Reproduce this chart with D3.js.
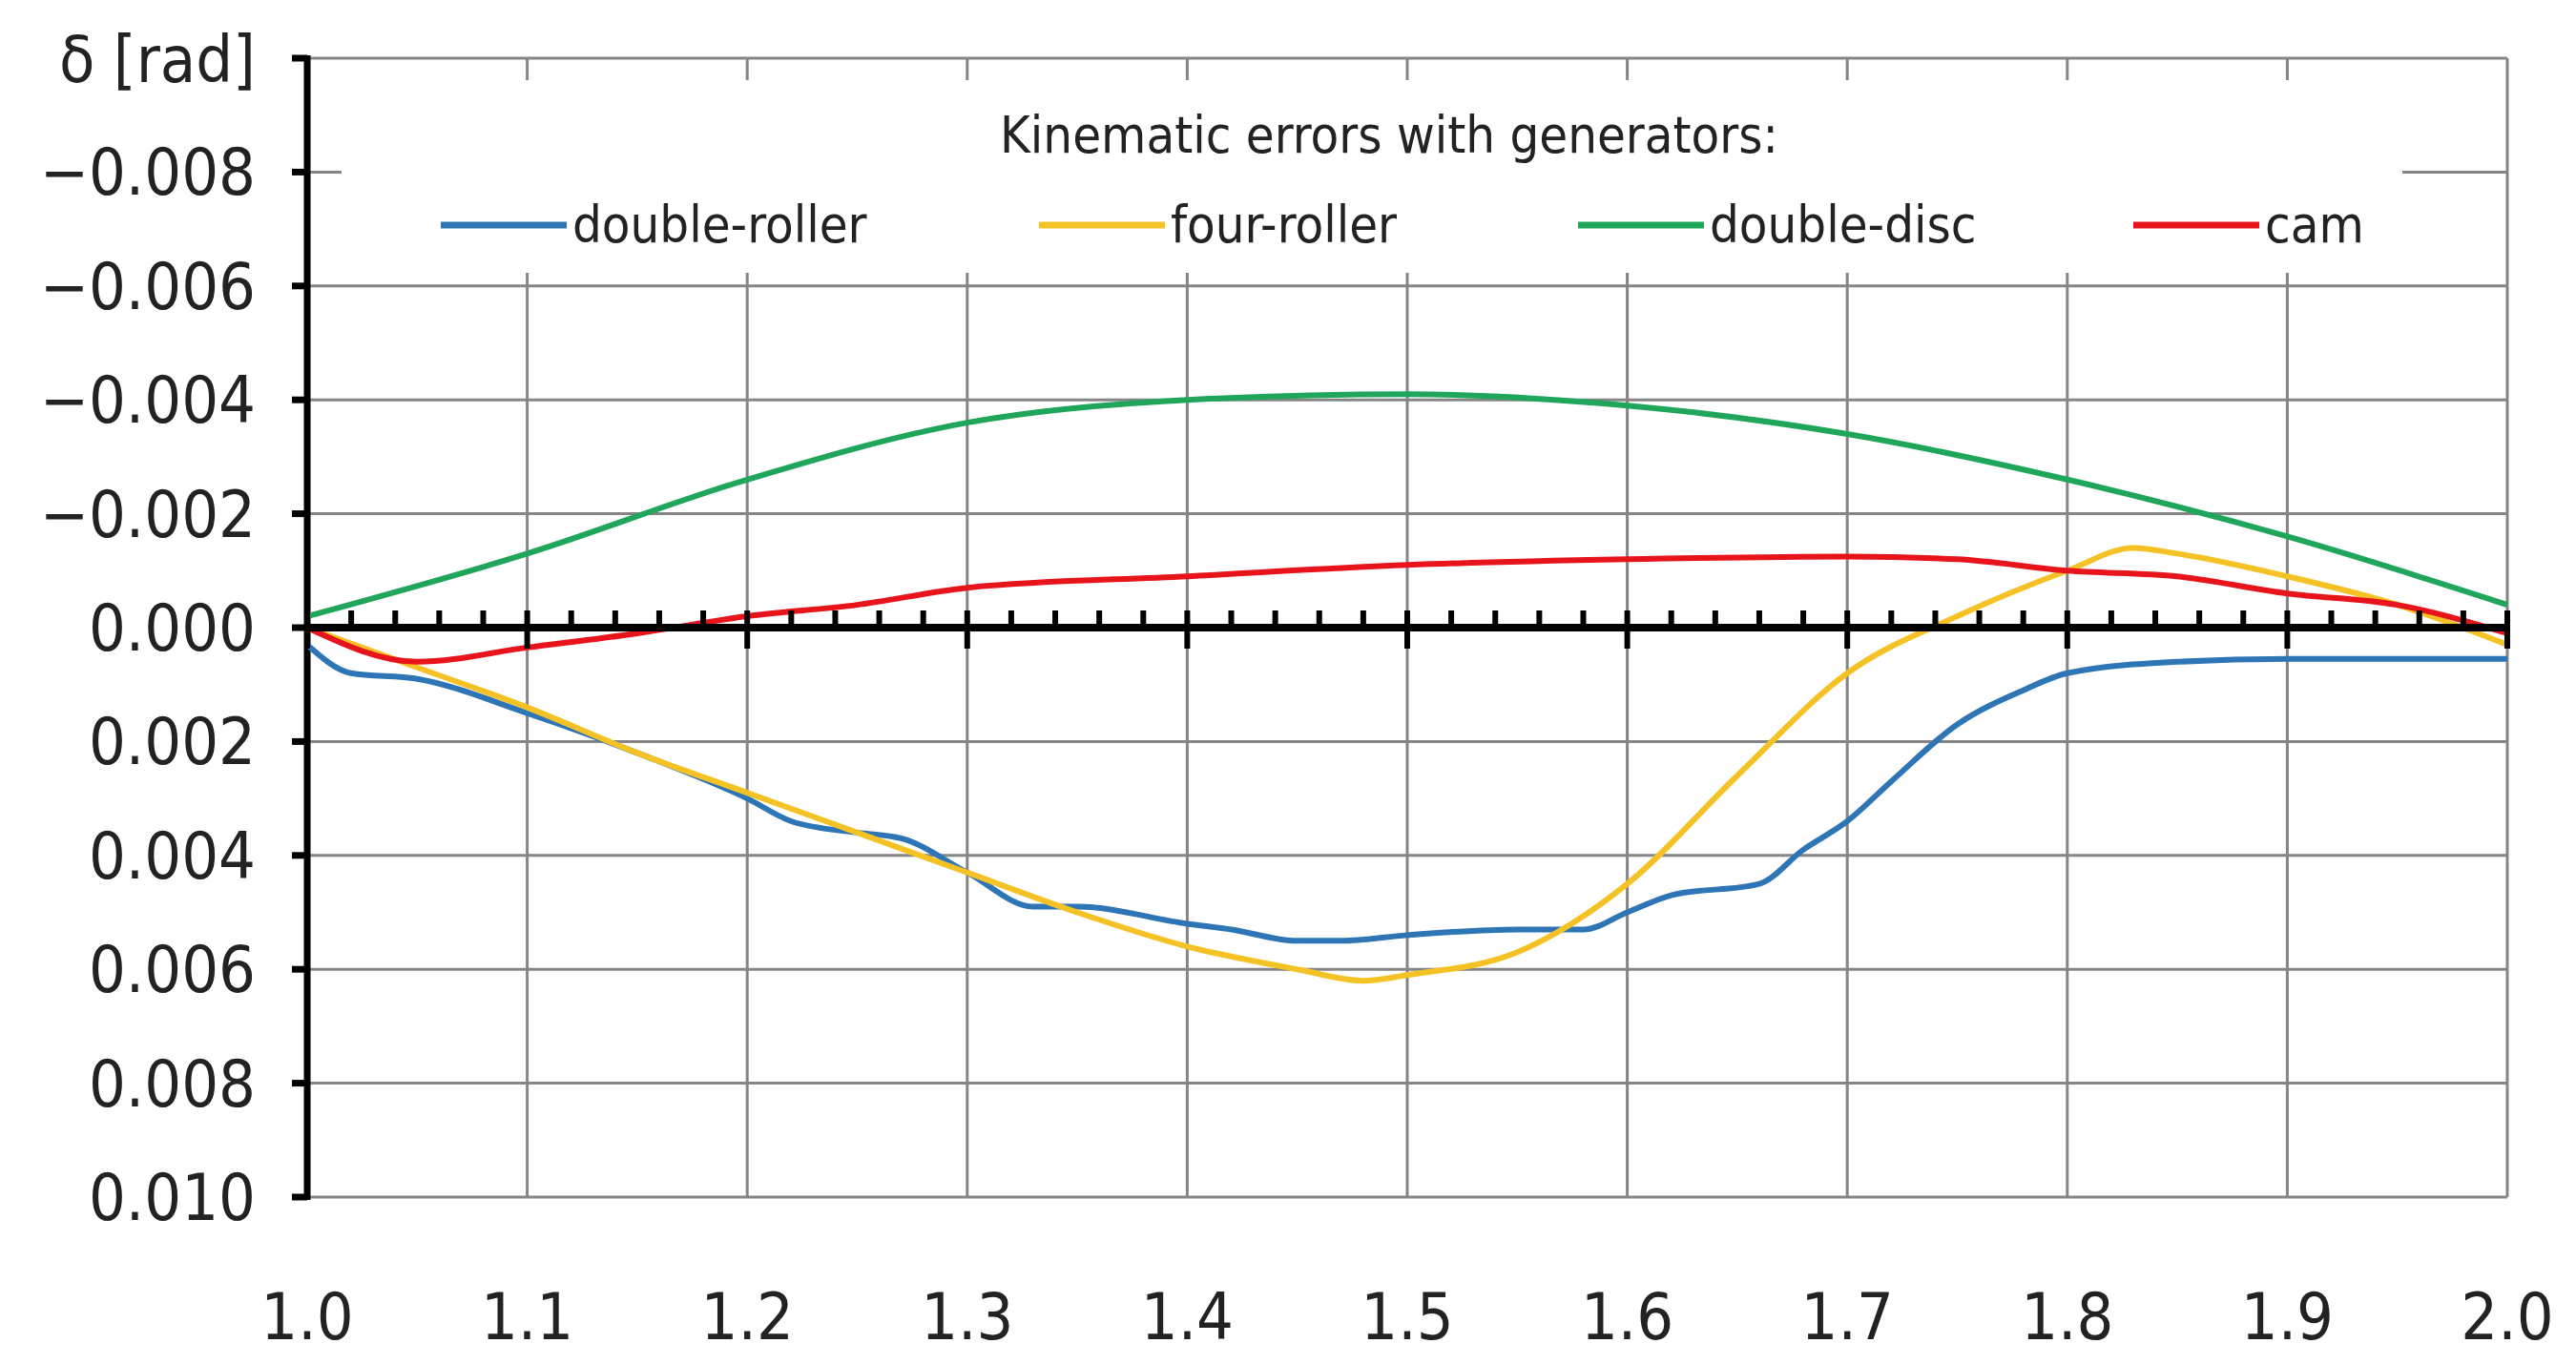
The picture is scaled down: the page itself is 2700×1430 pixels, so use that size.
<!DOCTYPE html>
<html><head><meta charset="utf-8">
<script src="https://cdn.jsdelivr.net/npm/d3@7"></script>
<style>html,body{margin:0;background:#fff}</style>
</head><body>
<svg id="c" width="2700" height="1430"></svg>
<script>
const xTicks = [1.0,1.1,1.2,1.3,1.4,1.5,1.6,1.7,1.8,1.9,2.0];
const yTicks = [-0.008,-0.006,-0.004,-0.002,0,0.002,0.004,0.006,0.008,0.010];
const seriesNames = ["double-roller","four-roller","double-disc","cam"];
const seriesColors = ["#2E75B6","#F5C226","#1FA65A","#E8141B"];
const doubleRollerX = [1.0,1.02,1.05,1.1,1.15,1.2,1.22,1.25,1.27,1.3,1.33,1.35,1.4,1.42,1.45,1.47,1.5,1.55,1.58,1.6,1.62,1.66,1.68,1.7,1.72,1.75,1.78,1.8,1.85,1.9,2.0];
const doubleRollerY = [0.0003,0.0008,0.0009,0.0015,0.0022,0.003,0.0034,0.0036,0.0037,0.0043,0.0049,0.0049,0.0052,0.0053,0.0055,0.0055,0.0054,0.0053,0.0053,0.005,0.0047,0.0045,0.0039,0.0034,0.0027,0.0017,0.0011,0.0008,0.0006,0.00055,0.00055];
const fourRollerX = [1.0,1.05,1.1,1.15,1.2,1.25,1.3,1.35,1.4,1.45,1.48,1.5,1.55,1.6,1.65,1.7,1.75,1.8,1.83,1.85,1.9,1.95,2.0];
const fourRollerY = [0,0.0007,0.0014,0.0022,0.0029,0.0036,0.0043,0.005,0.0056,0.006,0.0062,0.0061,0.0057,0.0045,0.0026,0.0008,-0.0002,-0.001,-0.0014,-0.0013,-0.0009,-0.0004,0.0003];
const doubleDiscX = [1.0,1.1,1.2,1.3,1.4,1.5,1.6,1.7,1.8,1.9,2.0];
const doubleDiscY = [-0.0002,-0.0013,-0.0026,-0.0036,-0.004,-0.0041,-0.0039,-0.0034,-0.0026,-0.0016,-0.0004];
const camX = [1.0,1.05,1.1,1.15,1.2,1.25,1.3,1.4,1.5,1.6,1.7,1.75,1.8,1.85,1.9,1.95,2.0];
const camY = [0,0.0006,0.00035,0.0001,-0.0002,-0.0004,-0.0007,-0.0009,-0.0011,-0.0012,-0.00125,-0.0012,-0.001,-0.0009,-0.0006,-0.0004,0.0001];

const svg = d3.select("#c");
const L=322,R=2628,T=61,B=1255;
const x = d3.scaleLinear().domain([1,2]).range([L,R]);
const y = d3.scaleLinear().domain([-0.010,0.010]).range([T,B]);
const font = "'Liberation Sans Narrow','DejaVu Sans Condensed','Liberation Sans',sans-serif";
const g = svg.append("g");
// grid
g.selectAll(".hg").data(yTicks.concat([-0.010])).join("line")
 .attr("x1",L).attr("x2",R).attr("y1",d=>y(d)).attr("y2",d=>y(d))
 .attr("stroke","#858585").attr("stroke-width",3);
g.selectAll(".vg").data(xTicks.slice(1)).join("line")
 .attr("x1",d=>x(d)).attr("x2",d=>x(d)).attr("y1",T).attr("y2",B)
 .attr("stroke","#858585").attr("stroke-width",3);
// legend box background
svg.append("rect").attr("x",358).attr("y",84).attr("width",2160).attr("height",202).attr("fill","#fff");
// y axis
svg.append("line").attr("x1",L).attr("x2",L).attr("y1",T-3).attr("y2",B+3).attr("stroke","#000").attr("stroke-width",7);
svg.selectAll(".yt").data(yTicks.concat([-0.010])).join("line")
 .attr("x1",L-16).attr("x2",L).attr("y1",d=>y(d)).attr("y2",d=>y(d)).attr("stroke","#000").attr("stroke-width",7);
svg.selectAll(".yl").data(yTicks).join("text")
 .attr("x",268).attr("y",d=>y(d)+24).attr("text-anchor","end")
 .attr("font-family",font).attr("font-size",68).attr("fill","#222")
 .text(d=>(d<0?"\u2212":"")+Math.abs(d).toFixed(3));
svg.append("text").attr("x",268).attr("y",86).attr("text-anchor","end")
 .attr("font-family",font).attr("font-size",68).attr("fill","#222").text("δ [rad]");
// x labels
svg.selectAll(".xl").data(xTicks).join("text")
 .attr("x",d=>x(d)).attr("y",1404).attr("text-anchor","middle")
 .attr("font-family",font).attr("font-size",68).attr("fill","#222").text(d=>d.toFixed(1));
// lines
const sets = [[doubleRollerX,doubleRollerY],[fourRollerX,fourRollerY],[doubleDiscX,doubleDiscY],[camX,camY]];
const line = d3.line().x(d=>x(d[0])).y(d=>y(d[1])).curve(d3.curveMonotoneX);
sets.forEach((s,i)=>{
  const pts = s[0].map((v,k)=>[v,s[1][k]]);
  svg.append("path").attr("d",line(pts)).attr("fill","none")
   .attr("stroke",seriesColors[i]).attr("stroke-width",6).attr("stroke-linejoin","round");
});
// zero axis with ticks
svg.append("line").attr("x1",L).attr("x2",R).attr("y1",y(0)).attr("y2",y(0)).attr("stroke","#000").attr("stroke-width",8);
const minor = d3.range(0,51).map(i=>1+i*0.02);
svg.selectAll(".mt").data(minor).join("line")
 .attr("x1",d=>x(d)).attr("x2",d=>x(d))
 .attr("y1",(d,i)=>i%5===0? y(0)-18 : y(0)-18)
 .attr("y2",(d,i)=>i%5===0? y(0)+22 : y(0))
 .attr("stroke","#000").attr("stroke-width",6);
// legend
svg.append("text").attr("x",1456).attr("y",160).attr("text-anchor","middle")
 .attr("font-family",font).attr("font-size",54).attr("fill","#222").text("Kinematic errors with generators:");
const lx = [462,1089,1654,2236];
seriesNames.forEach((n,i)=>{
  svg.append("line").attr("x1",lx[i]).attr("x2",lx[i]+132).attr("y1",236).attr("y2",236)
   .attr("stroke",seriesColors[i]).attr("stroke-width",7);
  svg.append("text").attr("x",lx[i]+138).attr("y",254)
   .attr("font-family",font).attr("font-size",54).attr("fill","#222").text(n);
});
</script>
</body></html>
